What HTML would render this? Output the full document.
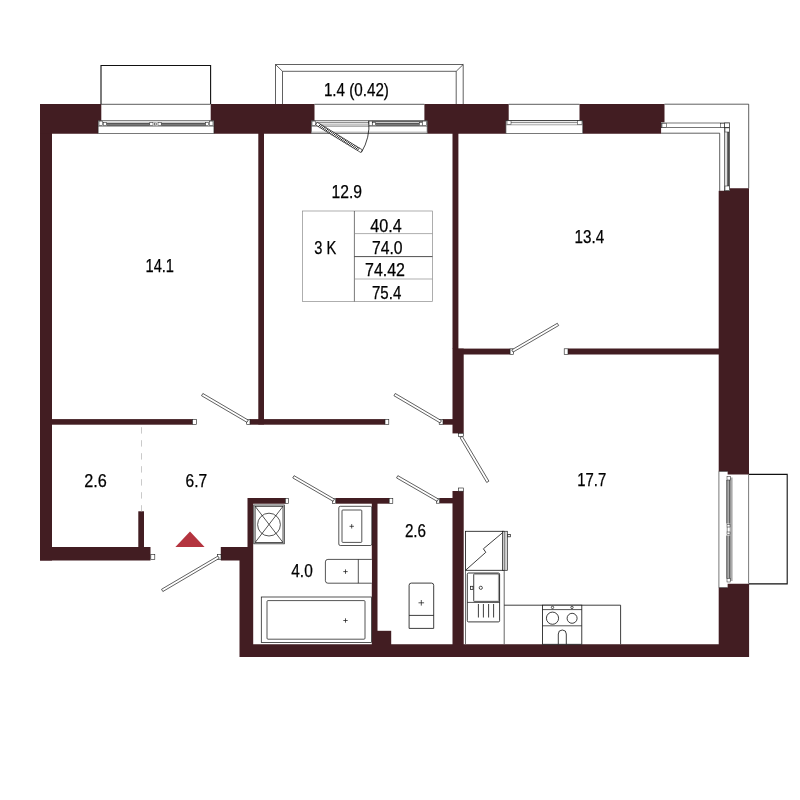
<!DOCTYPE html>
<html><head><meta charset="utf-8"><title>Plan</title>
<style>
html,body{margin:0;padding:0;background:#fff;}
svg{display:block;will-change:transform;opacity:0.999}
text{font-family:"Liberation Sans",sans-serif;fill:#000;stroke:#000;stroke-width:0.25px;}
</style></head><body>
<svg width="800" height="800" viewBox="0 0 800 800">
<rect width="800" height="800" fill="#fff"/>
<path d="M101,104 V65.5 H210.6 V104" fill="none" stroke="#111" stroke-width="1.1"/>
<path d="M275.5,104.2 V64.5 H463.2 V104.2" fill="none" stroke="#1c1c1c" stroke-width="0.7"/>
<path d="M282.5,104.2 V71.3 H456.2 V104.2" fill="none" stroke="#1c1c1c" stroke-width="0.7"/>
<line x1="275.50" y1="64.50" x2="282.50" y2="71.30" stroke="#1c1c1c" stroke-width="0.7" />
<line x1="463.20" y1="64.50" x2="456.20" y2="71.30" stroke="#1c1c1c" stroke-width="0.7" />
<path d="M749,474.4 H787.2 V583.9 H749" fill="none" stroke="#111" stroke-width="1.1"/>
<rect x="40.00" y="104.00" width="12.00" height="456.50" fill="#421d22" />
<polygon points="40.00,104.00 101.30,104.00 101.30,120.80 98.20,120.80 98.20,133.80 40.00,133.80 40.00,120.80 40.00,120.80" fill="#421d22"/>
<polygon points="210.70,104.00 314.50,104.00 314.50,120.80 311.40,120.80 311.40,133.80 213.90,133.80 213.90,120.80 210.70,120.80" fill="#421d22"/>
<polygon points="424.40,104.00 508.70,104.00 508.70,120.80 505.90,120.80 505.90,133.80 427.20,133.80 427.20,120.80 424.40,120.80" fill="#421d22"/>
<polygon points="579.50,104.00 664.50,104.00 664.50,122.30 661.10,122.30 661.10,133.80 582.70,133.80 582.70,122.30 579.50,122.30" fill="#421d22"/>
<polygon points="719.30,190.80 729.70,190.80 729.70,188.20 749.00,188.20 749.00,474.40 727.40,474.40 727.40,471.40 718.70,471.40 718.70,190.80" fill="#421d22"/>
<polygon points="718.70,587.60 727.40,587.60 727.40,583.70 749.10,583.70 749.10,657.00 239.50,657.00 239.50,560.50 220.80,560.50 220.80,547.00 247.50,547.00 247.50,498.00 285.40,498.00 285.40,503.70 253.20,503.70 253.20,644.30 718.70,644.30" fill="#421d22"/>
<rect x="40.00" y="547.00" width="110.50" height="13.50" fill="#421d22" />
<rect x="138.30" y="511.30" width="5.70" height="36.70" fill="#421d22" />
<rect x="335.60" y="498.00" width="53.60" height="5.70" fill="#421d22" />
<rect x="371.80" y="503.00" width="5.70" height="142.00" fill="#421d22" />
<rect x="377.00" y="630.80" width="14.20" height="14.20" fill="#421d22" />
<rect x="452.50" y="491.00" width="11.20" height="154.00" fill="#421d22" />
<rect x="439.40" y="498.00" width="13.60" height="5.40" fill="#421d22" />
<rect x="452.50" y="348.60" width="11.20" height="84.80" fill="#421d22" />
<rect x="443.00" y="419.10" width="10.00" height="5.60" fill="#421d22" />
<rect x="452.50" y="133.00" width="5.90" height="216.00" fill="#421d22" />
<rect x="458.00" y="348.60" width="52.10" height="5.90" fill="#421d22" />
<rect x="568.00" y="348.50" width="151.50" height="6.00" fill="#421d22" />
<rect x="258.30" y="133.00" width="5.70" height="291.50" fill="#421d22" />
<rect x="51.00" y="419.10" width="141.60" height="5.60" fill="#421d22" />
<rect x="250.00" y="419.10" width="135.00" height="5.60" fill="#421d22" />
<rect x="192.60" y="419.30" width="3.70" height="5.20" fill="#fff" stroke="#1c1c1c" stroke-width="0.6" />
<rect x="246.70" y="419.30" width="3.30" height="5.20" fill="#fff" stroke="#1c1c1c" stroke-width="0.6" />
<rect x="385.00" y="419.30" width="3.80" height="5.20" fill="#fff" stroke="#1c1c1c" stroke-width="0.6" />
<rect x="439.20" y="419.30" width="3.80" height="5.20" fill="#fff" stroke="#1c1c1c" stroke-width="0.6" />
<rect x="510.10" y="348.80" width="3.30" height="5.50" fill="#fff" stroke="#1c1c1c" stroke-width="0.6" />
<rect x="564.20" y="348.80" width="3.80" height="5.50" fill="#fff" stroke="#1c1c1c" stroke-width="0.6" />
<rect x="458.60" y="433.40" width="4.90" height="3.30" fill="#fff" stroke="#1c1c1c" stroke-width="0.6" />
<rect x="458.40" y="488.00" width="5.20" height="3.20" fill="#fff" stroke="#1c1c1c" stroke-width="0.6" />
<rect x="285.40" y="498.30" width="3.10" height="5.10" fill="#fff" stroke="#1c1c1c" stroke-width="0.6" />
<rect x="332.40" y="498.30" width="3.30" height="5.10" fill="#fff" stroke="#1c1c1c" stroke-width="0.6" />
<rect x="389.20" y="498.30" width="3.60" height="5.10" fill="#fff" stroke="#1c1c1c" stroke-width="0.6" />
<rect x="436.40" y="498.30" width="3.10" height="4.90" fill="#fff" stroke="#1c1c1c" stroke-width="0.6" />
<rect x="150.80" y="554.40" width="4.00" height="5.20" fill="#fff" stroke="#1c1c1c" stroke-width="0.6" />
<rect x="217.40" y="554.40" width="3.60" height="5.00" fill="#fff" stroke="#1c1c1c" stroke-width="0.6" />
<polygon points="248.26,420.08 202.86,393.48 201.54,395.72 246.94,422.32" fill="#fff" stroke="#1c1c1c" stroke-width="0.7"/>
<polygon points="441.46,420.68 395.26,393.48 393.94,395.72 440.14,422.92" fill="#fff" stroke="#1c1c1c" stroke-width="0.7"/>
<polygon points="513.06,352.12 558.66,325.52 557.34,323.28 511.74,349.88" fill="#fff" stroke="#1c1c1c" stroke-width="0.7"/>
<polygon points="460.08,437.66 486.68,482.46 488.92,481.14 462.32,436.34" fill="#fff" stroke="#1c1c1c" stroke-width="0.7"/>
<polygon points="334.45,499.08 294.05,475.68 292.75,477.92 333.15,501.32" fill="#fff" stroke="#1c1c1c" stroke-width="0.7"/>
<polygon points="438.45,499.07 397.85,475.67 396.55,477.93 437.15,501.33" fill="#fff" stroke="#1c1c1c" stroke-width="0.7"/>
<polygon points="217.94,556.08 161.54,589.28 162.86,591.52 219.26,558.32" fill="#fff" stroke="#1c1c1c" stroke-width="0.7"/>
<line x1="101.00" y1="104.30" x2="210.60" y2="104.30" stroke="#333" stroke-width="0.8" />
<path d="M98.2,120.8 V133.5 H213.9 V120.8" fill="#fff" stroke="#1c1c1c" stroke-width="0.6"/>
<line x1="98.20" y1="120.60" x2="213.90" y2="120.60" stroke="#1c1c1c" stroke-width="0.6" />
<line x1="98.20" y1="122.00" x2="213.90" y2="122.00" stroke="#999" stroke-width="0.4" />
<line x1="98.20" y1="126.10" x2="213.90" y2="126.10" stroke="#1c1c1c" stroke-width="0.6" />
<rect x="106.40" y="122.80" width="43.40" height="3.00" fill="#4c4c4c" />
<line x1="106.40" y1="124.30" x2="149.80" y2="124.30" stroke="#aaa" stroke-width="0.6" />
<rect x="161.20" y="122.80" width="44.40" height="3.00" fill="#4c4c4c" />
<line x1="161.20" y1="124.30" x2="205.60" y2="124.30" stroke="#aaa" stroke-width="0.6" />
<rect x="99.00" y="121.10" width="3.40" height="4.30" fill="#fff" stroke="#1c1c1c" stroke-width="0.5" />
<rect x="103.60" y="122.70" width="2.80" height="2.90" fill="#fff" stroke="#1c1c1c" stroke-width="0.5" />
<rect x="149.80" y="122.70" width="3.20" height="2.90" fill="#fff" stroke="#1c1c1c" stroke-width="0.5" />
<rect x="158.00" y="122.70" width="3.20" height="2.90" fill="#fff" stroke="#1c1c1c" stroke-width="0.5" />
<rect x="154.40" y="123.00" width="2.20" height="2.00" fill="#fff" stroke="#1c1c1c" stroke-width="0.5" />
<rect x="205.60" y="122.70" width="3.00" height="2.90" fill="#fff" stroke="#1c1c1c" stroke-width="0.5" />
<rect x="209.60" y="121.10" width="3.40" height="4.30" fill="#fff" stroke="#1c1c1c" stroke-width="0.5" />
<line x1="314.50" y1="104.30" x2="424.40" y2="104.30" stroke="#333" stroke-width="0.8" />
<path d="M311.4,120.8 V133.5 H427.2 V120.8" fill="#fff" stroke="#1c1c1c" stroke-width="0.6"/>
<line x1="311.40" y1="120.60" x2="427.20" y2="120.60" stroke="#1c1c1c" stroke-width="0.6" />
<line x1="311.40" y1="122.00" x2="427.20" y2="122.00" stroke="#999" stroke-width="0.4" />
<line x1="311.40" y1="126.10" x2="427.20" y2="126.10" stroke="#1c1c1c" stroke-width="0.6" />
<rect x="375.40" y="122.80" width="44.00" height="3.00" fill="#4c4c4c" />
<line x1="375.40" y1="124.30" x2="419.40" y2="124.30" stroke="#aaa" stroke-width="0.6" />
<rect x="312.00" y="121.10" width="3.60" height="4.30" fill="#fff" stroke="#1c1c1c" stroke-width="0.5" />
<rect x="368.80" y="121.10" width="3.40" height="4.50" fill="#fff" stroke="#1c1c1c" stroke-width="0.5" />
<rect x="372.40" y="122.70" width="3.00" height="2.90" fill="#fff" stroke="#1c1c1c" stroke-width="0.5" />
<rect x="419.40" y="122.70" width="2.80" height="2.90" fill="#fff" stroke="#1c1c1c" stroke-width="0.5" />
<rect x="422.40" y="121.10" width="4.20" height="4.30" fill="#fff" stroke="#1c1c1c" stroke-width="0.5" />
<line x1="372.20" y1="121.30" x2="422.20" y2="121.30" stroke="#333" stroke-width="0.9" />
<line x1="316.00" y1="122.70" x2="368.80" y2="122.70" stroke="#333" stroke-width="0.6" />
<rect x="316.00" y="123.80" width="52.80" height="2.20" fill="#c6c6c6" />
<line x1="311.40" y1="132.20" x2="427.20" y2="132.20" stroke="#a0a0a0" stroke-width="1.0" />
<defs><pattern id="hat" width="1.6" height="1.6" patternUnits="userSpaceOnUse" patternTransform="rotate(75)"><rect width="1.6" height="1.6" fill="#fff"/><line x1="0" y1="0" x2="0" y2="1.6" stroke="#333" stroke-width="1"/></pattern></defs>
<polygon points="315.59,124.92 360.79,152.52 362.41,149.88 317.21,122.28" fill="#fff" stroke="#1c1c1c" stroke-width="0.7"/>
<path d="M318.32,126.59L320.71,124.41M319.82,127.50L322.20,125.33M321.31,128.41L323.69,126.24M322.80,129.33L325.19,127.15M324.30,130.24L326.68,128.06M325.79,131.15L328.17,128.97M327.28,132.06L329.67,129.89M328.78,132.97L331.16,130.80M330.27,133.89L332.66,131.71M331.77,134.80L334.15,132.62M333.26,135.71L335.64,133.53M334.75,136.62L337.14,134.45M336.25,137.53L338.63,135.36M337.74,138.45L340.12,136.27M339.23,139.36L341.62,137.18M340.73,140.27L343.11,138.09M342.22,141.18L344.60,139.01M343.71,142.09L346.10,139.92M345.21,143.01L347.59,140.83M346.70,143.92L349.08,141.74M348.19,144.83L350.58,142.65M349.69,145.74L352.07,143.57M351.18,146.65L353.57,144.48M352.68,147.57L355.06,145.39M354.17,148.48L356.55,146.30M355.66,149.39L358.05,147.21M357.16,150.30L359.54,148.13" stroke="#111" stroke-width="0.95" fill="none"/>
<path d="M368.8,120.8 A52.4,52.4 0 0 1 361.4,152.4" fill="none" stroke="#111" stroke-width="0.8"/>
<line x1="508.70" y1="104.30" x2="579.50" y2="104.30" stroke="#333" stroke-width="0.8" />
<path d="M505.9,120.6 V133.5 H582.7 V120.6" fill="#fff" stroke="#1c1c1c" stroke-width="0.6"/>
<line x1="505.90" y1="120.60" x2="582.70" y2="120.60" stroke="#1c1c1c" stroke-width="0.9" />
<line x1="511.00" y1="122.60" x2="577.50" y2="122.60" stroke="#333" stroke-width="0.6" />
<line x1="505.90" y1="124.80" x2="582.70" y2="124.80" stroke="#666" stroke-width="0.6" />
<rect x="507.00" y="120.80" width="4.00" height="3.90" fill="#fff" stroke="#1c1c1c" stroke-width="0.5" />
<rect x="577.60" y="120.80" width="4.40" height="3.90" fill="#fff" stroke="#1c1c1c" stroke-width="0.5" />
<path d="M664.5,104.2 H748.7 V188.2" fill="none" stroke="#1c1c1c" stroke-width="0.7"/>
<path d="M661.1,133.2 H719.7 V190.8" fill="none" stroke="#1c1c1c" stroke-width="0.7"/>
<rect x="661.30" y="123.00" width="68.40" height="4.70" fill="#fff" stroke="#1c1c1c" stroke-width="0.6" />
<rect x="662.00" y="123.30" width="4.40" height="4.10" fill="#fff" stroke="#1c1c1c" stroke-width="0.5" />
<rect x="720.40" y="123.30" width="4.20" height="4.10" fill="#fff" stroke="#1c1c1c" stroke-width="0.5" />
<rect x="724.60" y="123.00" width="5.10" height="4.70" fill="#fff" stroke="#1c1c1c" stroke-width="0.6" />
<rect x="724.60" y="127.70" width="5.10" height="63.10" fill="#fff" stroke="#1c1c1c" stroke-width="0.6" />
<rect x="727.20" y="132.00" width="2.20" height="54.00" fill="#4c4c4c" />
<line x1="726.00" y1="132.00" x2="726.00" y2="186.00" stroke="#777" stroke-width="0.5" />
<rect x="725.00" y="127.90" width="4.40" height="4.10" fill="#fff" stroke="#1c1c1c" stroke-width="0.5" />
<rect x="725.00" y="186.00" width="4.40" height="4.40" fill="#fff" stroke="#1c1c1c" stroke-width="0.5" />
<path d="M727.4,471.4 H718.9 V587.6 H727.4" fill="#fff" stroke="#1c1c1c" stroke-width="0.6"/>
<line x1="748.60" y1="474.40" x2="748.60" y2="583.70" stroke="#444" stroke-width="0.7" />
<rect x="729.60" y="477.50" width="3.00" height="103.50" fill="#ababab" />
<rect x="726.60" y="480.00" width="3.00" height="43.60" fill="#ababab" />
<rect x="726.60" y="535.50" width="3.00" height="43.00" fill="#ababab" />
<line x1="726.80" y1="480.00" x2="726.80" y2="523.60" stroke="#1c1c1c" stroke-width="0.7" />
<line x1="729.70" y1="480.00" x2="729.70" y2="523.60" stroke="#1c1c1c" stroke-width="0.7" />
<line x1="726.80" y1="535.50" x2="726.80" y2="578.50" stroke="#1c1c1c" stroke-width="0.7" />
<line x1="729.70" y1="535.50" x2="729.70" y2="578.50" stroke="#1c1c1c" stroke-width="0.7" />
<rect x="727.00" y="476.40" width="3.40" height="3.60" fill="#fff" stroke="#1c1c1c" stroke-width="0.5" />
<rect x="727.00" y="524.30" width="3.00" height="2.70" fill="#fff" stroke="#1c1c1c" stroke-width="0.5" />
<rect x="727.00" y="532.00" width="3.00" height="2.70" fill="#fff" stroke="#1c1c1c" stroke-width="0.5" />
<rect x="727.00" y="578.50" width="3.20" height="3.50" fill="#fff" stroke="#1c1c1c" stroke-width="0.5" />
<line x1="727.20" y1="527.00" x2="727.20" y2="532.00" stroke="#1c1c1c" stroke-width="0.5" />
<line x1="141.50" y1="427.20" x2="141.50" y2="511.30" stroke="#bdbdbd" stroke-width="0.8" stroke-dasharray="6.4 6.6"/>
<polygon points="190.00,531.60 175.40,547.00 204.60,547.00" fill="#b4343f"/>
<rect x="253.80" y="505.00" width="30.50" height="38.80" fill="#fff" stroke="#1c1c1c" stroke-width="0.75" />
<rect x="255.10" y="506.30" width="27.90" height="36.20" fill="#fff" stroke="#1c1c1c" stroke-width="0.75" />
<circle cx="269" cy="524.6" r="11.4" fill="none" stroke="#1c1c1c" stroke-width="0.75"/>
<line x1="255.10" y1="506.30" x2="283.00" y2="542.50" stroke="#1c1c1c" stroke-width="0.75" />
<line x1="283.00" y1="506.30" x2="255.10" y2="542.50" stroke="#1c1c1c" stroke-width="0.75" />
<rect x="338.80" y="506.30" width="33.00" height="39.20" fill="#fff" stroke="#1c1c1c" stroke-width="0.75" rx="1.5"/>
<rect x="342.00" y="510.00" width="19.80" height="32.40" fill="#fff" stroke="#1c1c1c" stroke-width="0.75" rx="0.8"/>
<line x1="349.50" y1="526.30" x2="353.90" y2="526.30" stroke="#1c1c1c" stroke-width="0.75" />
<line x1="351.70" y1="524.10" x2="351.70" y2="528.50" stroke="#1c1c1c" stroke-width="0.75" />
<path d="M371.8,559.4 H327.9 Q325.4,559.4 325.4,561.9 V580.7 Q325.4,583.2 327.9,583.2 H371.8" fill="#fff" stroke="#1c1c1c" stroke-width="0.75"/>
<line x1="358.30" y1="559.40" x2="358.30" y2="583.20" stroke="#1c1c1c" stroke-width="0.75" />
<line x1="343.30" y1="571.60" x2="347.70" y2="571.60" stroke="#1c1c1c" stroke-width="0.75" />
<line x1="345.50" y1="569.40" x2="345.50" y2="573.80" stroke="#1c1c1c" stroke-width="0.75" />
<rect x="261.30" y="597.00" width="110.30" height="45.60" fill="#fff" stroke="#1c1c1c" stroke-width="0.75" />
<rect x="267.00" y="600.60" width="98.00" height="38.60" fill="#fff" stroke="#1c1c1c" stroke-width="0.75" rx="1"/>
<line x1="343.30" y1="620.50" x2="347.70" y2="620.50" stroke="#1c1c1c" stroke-width="0.75" />
<line x1="345.50" y1="618.30" x2="345.50" y2="622.70" stroke="#1c1c1c" stroke-width="0.75" />
<path d="M409.1,628.4 V585.3 Q409.1,583.1 411.3,583.1 H431.5 Q433.7,583.1 433.7,585.3 V628.4 Z" fill="#fff" stroke="#1c1c1c" stroke-width="0.85"/>
<line x1="409.10" y1="615.40" x2="433.70" y2="615.40" stroke="#1c1c1c" stroke-width="0.85" />
<line x1="418.50" y1="602.80" x2="424.10" y2="602.80" stroke="#1c1c1c" stroke-width="0.75" />
<line x1="421.30" y1="600.00" x2="421.30" y2="605.60" stroke="#1c1c1c" stroke-width="0.75" />
<path d="M465.5,570.3 V644.3" fill="none" stroke="#555" stroke-width="0.85"/>
<path d="M504.2,570.3 V644.3" fill="none" stroke="#555" stroke-width="0.9"/>
<path d="M504.2,605.2 H620.6 V644.3" fill="none" stroke="#1c1c1c" stroke-width="0.85"/>
<rect x="465.50" y="531.30" width="38.30" height="39.00" fill="#fff" stroke="#1c1c1c" stroke-width="0.85" />
<path d="M465.5,570.3 L485.8,552.3 L483.4,548.8 L503.4,532" fill="none" stroke="#1c1c1c" stroke-width="0.85"/>
<rect x="502.60" y="531.30" width="4.70" height="39.00" fill="#fff" stroke="#1c1c1c" stroke-width="0.75" />
<line x1="504.20" y1="531.30" x2="504.20" y2="570.30" stroke="#1c1c1c" stroke-width="0.75" />
<line x1="505.80" y1="531.60" x2="505.80" y2="570.00" stroke="#999" stroke-width="0.8" />
<rect x="507.70" y="534.40" width="2.60" height="2.40" fill="#fff" stroke="#1c1c1c" stroke-width="0.75" />
<rect x="467.30" y="573.00" width="32.30" height="48.90" fill="#fff" stroke="#1c1c1c" stroke-width="0.85" rx="1.2"/>
<rect x="473.60" y="573.90" width="25.40" height="27.70" fill="#fff" stroke="#1c1c1c" stroke-width="0.75" rx="1"/>
<rect x="474.30" y="574.60" width="24.00" height="26.30" fill="none" stroke="#999" stroke-width="0.4" rx="0.8"/>
<line x1="467.30" y1="602.40" x2="499.60" y2="602.40" stroke="#1c1c1c" stroke-width="0.75" />
<line x1="478.40" y1="604.00" x2="478.40" y2="617.50" stroke="#1c1c1c" stroke-width="0.85" />
<line x1="483.40" y1="604.00" x2="483.40" y2="617.50" stroke="#1c1c1c" stroke-width="0.85" />
<line x1="488.60" y1="604.00" x2="488.60" y2="617.50" stroke="#1c1c1c" stroke-width="0.85" />
<line x1="493.60" y1="604.00" x2="493.60" y2="617.50" stroke="#1c1c1c" stroke-width="0.85" />
<rect x="470.50" y="586.30" width="2.50" height="3.10" fill="#fff" stroke="#1c1c1c" stroke-width="0.75" />
<circle cx="480.8" cy="587.8" r="1.6" fill="#fff" stroke="#1c1c1c" stroke-width="0.75"/>
<rect x="542.50" y="605.20" width="39.30" height="39.10" fill="#fff" stroke="#1c1c1c" stroke-width="0.85" />
<line x1="542.50" y1="609.60" x2="581.80" y2="609.60" stroke="#1c1c1c" stroke-width="0.75" />
<line x1="542.50" y1="625.80" x2="581.80" y2="625.80" stroke="#1c1c1c" stroke-width="0.75" />
<circle cx="552.5" cy="618.2" r="6.1" fill="none" stroke="#1c1c1c" stroke-width="0.85"/>
<circle cx="572.1" cy="618.3" r="5.0" fill="none" stroke="#1c1c1c" stroke-width="0.85"/>
<circle cx="552.5" cy="607.4" r="1.2" fill="none" stroke="#1c1c1c" stroke-width="0.75"/>
<circle cx="572" cy="607.4" r="1.2" fill="none" stroke="#1c1c1c" stroke-width="0.75"/>
<path d="M558.3,644.3 V634 A4,4 0 0 1 566.3,634 V644.3" fill="none" stroke="#1c1c1c" stroke-width="0.85"/>
<rect x="302.40" y="211.00" width="130.00" height="90.40" fill="none" stroke="#8c8c8c" stroke-width="0.7" />
<line x1="354.40" y1="211.00" x2="354.40" y2="301.40" stroke="#1c1c1c" stroke-width="0.6" />
<line x1="354.40" y1="233.60" x2="432.40" y2="233.60" stroke="#8c8c8c" stroke-width="0.7" />
<line x1="354.40" y1="256.60" x2="432.40" y2="256.60" stroke="#222" stroke-width="0.8" />
<line x1="354.40" y1="279.00" x2="432.40" y2="279.00" stroke="#8c8c8c" stroke-width="0.7" />
<g>
<text x="323.9" y="96.0" font-size="17.5" textLength="65" lengthAdjust="spacingAndGlyphs">1.4 (0.42)</text>
<text x="331.5" y="197.6" font-size="17.5" textLength="30.5" lengthAdjust="spacingAndGlyphs">12.9</text>
<text x="145.5" y="272.3" font-size="17.5" textLength="28.5" lengthAdjust="spacingAndGlyphs">14.1</text>
<text x="574.5" y="243" font-size="17.5" textLength="29.6" lengthAdjust="spacingAndGlyphs">13.4</text>
<text x="577.3" y="485.6" font-size="17.5" textLength="29" lengthAdjust="spacingAndGlyphs">17.7</text>
<text x="84.3" y="487.2" font-size="17.5" textLength="22.6" lengthAdjust="spacingAndGlyphs">2.6</text>
<text x="185.5" y="487.2" font-size="17.5" textLength="21.6" lengthAdjust="spacingAndGlyphs">6.7</text>
<text x="291.3" y="577.3" font-size="17.5" textLength="21.4" lengthAdjust="spacingAndGlyphs">4.0</text>
<text x="404.9" y="537.0" font-size="17.5" textLength="21.2" lengthAdjust="spacingAndGlyphs">2.6</text>
<text x="370.3" y="231.6" font-size="17.5" textLength="31.4" lengthAdjust="spacingAndGlyphs">40.4</text>
<text x="372" y="254" font-size="17.5" textLength="30.6" lengthAdjust="spacingAndGlyphs">74.0</text>
<text x="365" y="275.7" font-size="17.5" textLength="40" lengthAdjust="spacingAndGlyphs">74.42</text>
<text x="372" y="299" font-size="17.5" textLength="29.3" lengthAdjust="spacingAndGlyphs">75.4</text>
<text x="314.3" y="254" font-size="17.5" textLength="22" lengthAdjust="spacingAndGlyphs">3 K</text>
</g>
</svg>
</body></html>
